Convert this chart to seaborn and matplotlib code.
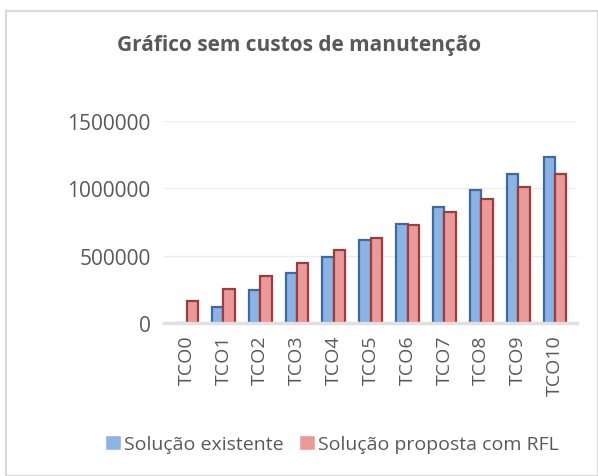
"""Gráfico sem custos de manutenção - TCO comparison bar chart."""

import matplotlib.pyplot as plt
import matplotlib.ticker as mticker
import pandas as pd
import seaborn as sns
from matplotlib.patches import Rectangle

categories = [f"TCO{i}" for i in range(11)]
existente = [0, 118000, 246000, 369000, 492000, 615000, 738000, 861000, 984000, 1107000, 1228000]
proposta = [162000, 254000, 350000, 445000, 540000, 633000, 730000, 824000, 918000, 1012000, 1103000]
series_names = ["Solução existente", "Solução proposta com RFL"]

df = pd.DataFrame({
    "tco": categories * 2,
    "valor": existente + proposta,
    "serie": [series_names[0]] * len(categories) + [series_names[1]] * len(categories),
})

sns.set_style("white")
plt.rcParams["font.family"] = ["Open Sans", "DejaVu Sans"]

fig = plt.figure(figsize=(5.98, 4.77), dpi=100)
ax = fig.add_axes([0.275, 0.32, 0.69, 0.425])

palette = ["#8db3e2", "#e99a9a"]
sns.barplot(
    data=df, x="tco", y="valor", hue="serie", ax=ax,
    palette=palette, width=0.62, saturation=1,
)
edge_colors = ["#3b6aa6", "#a23a3a"]
for container, ec in zip(ax.containers, edge_colors):
    for bar in container:
        bar.set_edgecolor(ec)
        bar.set_linewidth(1.6)

ax.set_ylim(0, 1500000)
ax.set_yticks([0, 500000, 1000000, 1500000])
ax.yaxis.set_major_formatter(mticker.FuncFormatter(lambda v, _: f"{int(v)}"))
ax.grid(axis="y", color="#ececec", linewidth=1)
ax.set_axisbelow(True)
for side in ["top", "right", "left"]:
    ax.spines[side].set_visible(False)
ax.spines["bottom"].set_color("#e0e0e0")
ax.spines["bottom"].set_linewidth(2.5)
ax.tick_params(axis="y", labelsize=15, colors="#595959", pad=10, length=0)
ax.tick_params(axis="x", labelsize=14, colors="#595959", rotation=90, length=0, pad=8)
ax.set_xlabel("")
ax.set_ylabel("")
ax.set_xlim(-0.6, 10.6)

handles, labels = ax.get_legend_handles_labels()
ax.legend_.remove()
fig.legend(
    handles, labels, loc="center", bbox_to_anchor=(0.555, 0.067), ncol=2,
    frameon=False, fontsize=14, labelcolor="#595959", handlelength=0.8,
    handleheight=0.8, handletextpad=0.15, columnspacing=0.8,
)

fig.text(0.5, 0.905, "Gráfico sem custos de manutenção", ha="center", va="center",
         fontsize=15, fontweight="bold", color="#595959")

fig.patches.append(Rectangle((0.01, 0.0), 0.99, 0.975, transform=fig.transFigure,
                             fill=False, edgecolor="#d9d9d9", linewidth=1.5))

fig.savefig("out.png", dpi=100)
